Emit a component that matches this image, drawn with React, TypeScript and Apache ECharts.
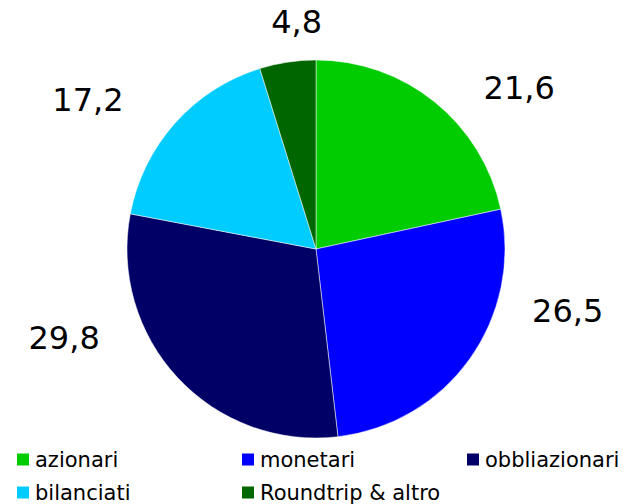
import React, { useEffect, useRef } from "react";
import * as echarts from "echarts";

const categories = ["azionari", "monetari", "obbliazionari", "bilanciati", "Roundtrip & altro"];
const values = [21.6, 26.5, 29.8, 17.2, 4.8];
const colors = ["#00CC00", "#0000FF", "#000066", "#00CCFF", "#006600"];
const labelOffsets = [
  [15, 9],
  [23, -65],
  [-41, -60],
  [-14, -3],
  [54, -10],
];

export default function App() {
  const ref = useRef<HTMLDivElement>(null);
  useEffect(() => {
    if (!ref.current) return;
    const chart = echarts.init(ref.current, null, { renderer: "svg" });
    chart.setOption({
      animation: false,
      backgroundColor: "#ffffff",
      legend: {
        left: 15,
        top: 448,
        padding: 0,
        width: 720,
        orient: "horizontal",
        itemWidth: 14,
        itemHeight: 14,
        itemGap: 10,
        icon: "rect",
        data: categories,
        textStyle: {
          fontFamily: "DejaVu Sans",
          fontSize: 21,
          color: "#000",
          width: 195,
          lineHeight: 23,
        },
      },
      series: [
        {
          type: "pie",
          center: [316, 249],
          radius: 189,
          startAngle: 90,
          clockwise: true,
          itemStyle: { borderColor: "#ffffff", borderWidth: 0.5 },
          label: {
            show: true,
            position: "outside",
            formatter: (p: any) => String(p.value).replace(".", ","),
            fontFamily: "DejaVu Sans",
            fontSize: 32,
            color: "#000",
          },
          labelLine: { show: false, length: 30, length2: 10 },
          labelLayout: (p: any) => ({ dx: labelOffsets[p.dataIndex][0], dy: labelOffsets[p.dataIndex][1] }),
          emphasis: { disabled: true },
          data: categories.map((c, i) => ({ name: c, value: values[i], itemStyle: { color: colors[i] } })),
        },
      ],
    });
    return () => chart.dispose();
  }, []);
  return <div ref={ref} style={{ position: "fixed", left: 0, top: 0, width: 632, height: 504 }} />;
}
